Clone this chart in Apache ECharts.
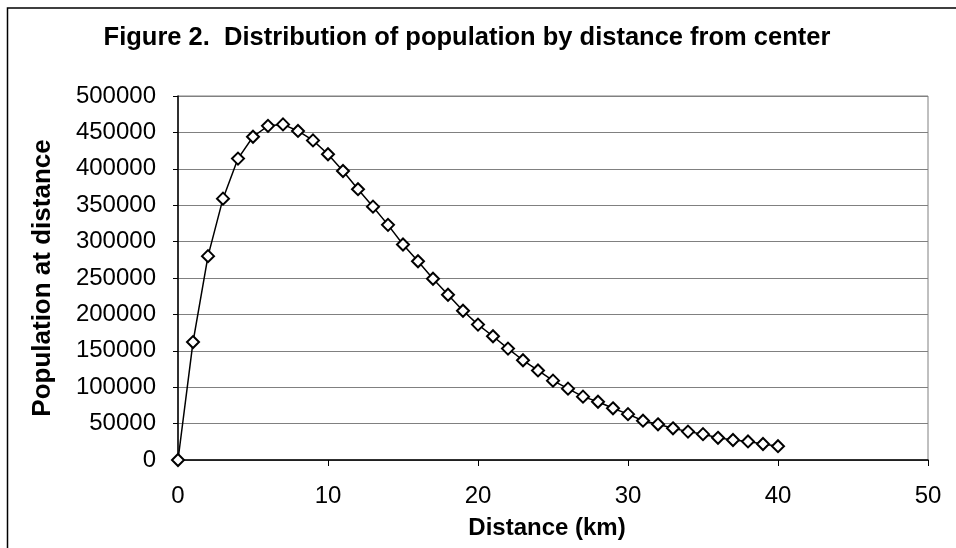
<!DOCTYPE html>
<html>
<head>
<meta charset="utf-8">
<script src="https://cdn.jsdelivr.net/npm/echarts@6/dist/echarts.min.js"></script>
<style>
  html, body { margin: 0; padding: 0; background: #fff; }
  #chart-container { width: 956px; height: 548px; }
</style>
</head>
<body>
<div id="chart-container"></div>
<script>
// distance from center (km)
const distanceKm = [
  0, 1, 2, 3, 4, 5, 6, 7, 8, 9, 10,
  11, 12, 13, 14, 15, 16, 17, 18, 19, 20,
  21, 22, 23, 24, 25, 26, 27, 28, 29, 30,
  31, 32, 33, 34, 35, 36, 37, 38, 39, 40
];

// population at that distance
const population = [
  0, 162000, 280000, 359000, 414000, 444000, 459000, 461000, 452000, 439000, 420000,
  397000, 372000, 348000, 323000, 296000, 273000, 249000, 227000, 205000, 186000,
  170000, 153000, 137000, 123000, 109000, 98000, 87000, 80000, 71000, 63000,
  54000, 49000, 43500, 39000, 35500, 30500, 27500, 25500, 22000, 19000
];

var dom = document.getElementById('chart-container');
var myChart = echarts.init(dom, null, { renderer: 'canvas' });

var pairs = distanceKm.map((d, i) => [d, population[i]]);

var fontName = 'Liberation Sans';

var option = {
  animation: false,
  backgroundColor: '#ffffff',
  title: {
    text: 'Figure 2.  Distribution of population by distance from center',
    left: 462,
    textAlign: 'center',
    top: 20,
    textStyle: {
      fontFamily: fontName,
      fontSize: 25.5,
      fontWeight: 'bold',
      color: '#000'
    }
  },
  graphic: [
    {
      // outer chart border
      type: 'rect',
      shape: { x: 7.5, y: 8, width: 960, height: 560 },
      style: { fill: 'none', stroke: '#000', lineWidth: 1.5 },
      silent: true
    }
  ],
  grid: {
    left: 178,
    right: 28,
    top: 96,
    bottom: 88,
    show: true,
    borderColor: '#808080',
    borderWidth: 1
  },
  xAxis: {
    type: 'value',
    min: 0,
    max: 50,
    interval: 10,
    name: 'Distance (km)',
    nameLocation: 'middle',
    nameGap: 56,
    nameTextStyle: {
      fontFamily: fontName,
      fontSize: 24,
      fontWeight: 'bold',
      color: '#000',
      padding: [0, 12, 0, 0]
    },
    axisLine: { show: true, lineStyle: { color: '#000', width: 1.5 } },
    axisTick: { show: true, inside: false, length: 6, lineStyle: { color: '#000' } },
    axisLabel: {
      margin: 24,
      fontFamily: fontName,
      fontSize: 24,
      color: '#000'
    },
    splitLine: { show: false }
  },
  yAxis: {
    type: 'value',
    min: 0,
    max: 500000,
    interval: 50000,
    name: 'Population at distance',
    nameLocation: 'middle',
    nameGap: 122,
    nameRotate: 90,
    nameTextStyle: {
      fontFamily: fontName,
      fontSize: 26,
      fontWeight: 'bold',
      color: '#000'
    },
    axisLine: { show: true, lineStyle: { color: '#000', width: 1.5 } },
    axisTick: { show: true, inside: false, length: 5, lineStyle: { color: '#000' } },
    axisLabel: {
      margin: 22,
      fontFamily: fontName,
      fontSize: 24,
      color: '#000',
      formatter: v => String(v)
    },
    splitLine: { show: true, lineStyle: { color: '#808080', width: 1 } }
  },
  series: [
    {
      type: 'line',
      data: pairs,
      symbol: 'diamond',
      symbolSize: 12,
      showAllSymbol: true,
      lineStyle: { color: '#000', width: 1.5 },
      itemStyle: { color: '#fff', borderColor: '#000', borderWidth: 2 },
      z: 3
    }
  ]
};

myChart.setOption(option);
</script>
</body>
</html>
